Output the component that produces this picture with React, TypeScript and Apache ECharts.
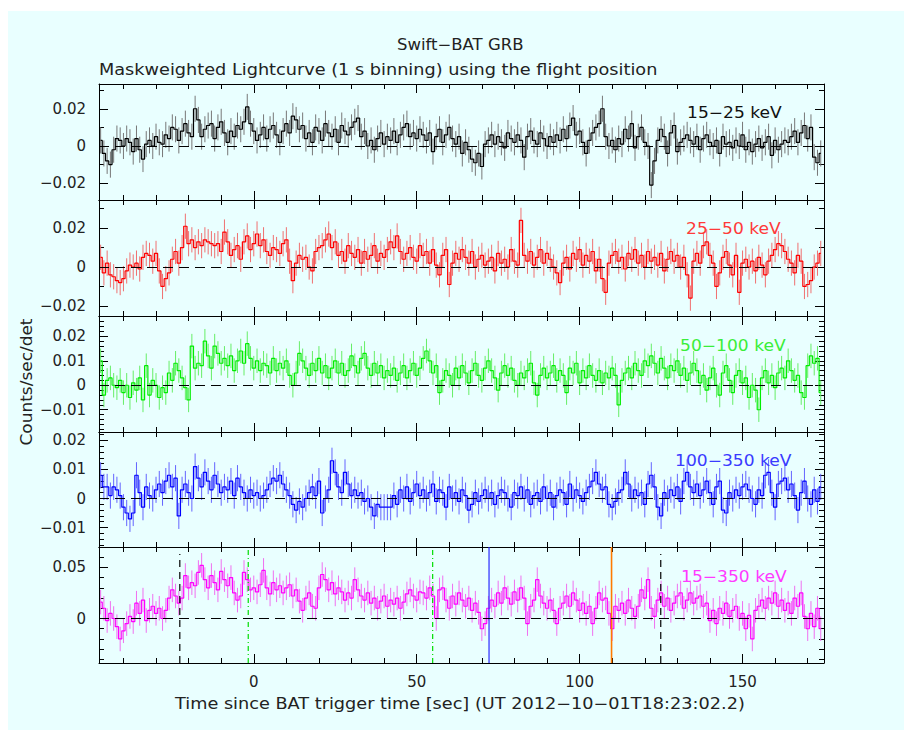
import React, { useEffect, useRef } from 'react';
import * as echarts from 'echarts';

// ---------------- data (rates in units of 0.001 counts/sec/det, 1 s bins) ----------------
const FIRST_BIN_CENTRE = -47; // seconds since trigger
const X_MIN = -47.5;
const X_MAX = 175;
const X_TICK_LABELS = [0, 50, 100, 150];
const X_MINOR_TICKS = [-40, -30, -20, -10, 10, 20, 30, 40, 60, 70, 80, 90, 110, 120, 130, 140, 160, 170];

const BAND_LABELS = ['15−25 keV', '25−50 keV', '50−100 keV', '100−350 keV', '15−350 keV'];

const RATE_15_25 = [
  3, -4, -8, -10, -2, 4, 3, 0, 4, 2,
  -3, 4, -2, -7, 1, 3, 0, 5, 2, 1,
  6, 4, 10, 9, 3, 8, 12, 7, 5, 20,
  14, 5, 9, 11, 12, 4, 10, 13, 7, 2,
  8, 5, 11, 9, 13, 21, 12, 8, 3, 6,
  10, 4, 9, 11, 6, 2, 8, 12, 7, 16,
  14, 9, 11, 4, 7, 2, 10, 8, 3, 12,
  7, 5, 9, 2, 11, 8, 6, 10, 13, 15,
  5, 8, 0, 3, -2, 4, 7, 1, 5, 3,
  8, 2, 6, 10, 12, 5, 7, 4, 9, 6,
  3, 7, -3, 5, 9, 2, 6, 10, 4, 1,
  5, -4, 2, -2, -7, -9, -4, -11, 1, 3,
  6, 1, 5, 2, -1, 7, 4, 2, 6, 3,
  -6, 5, 8, 3, 1, 7, 4, 0, 5, 2,
  6, 3, 9, 4, 11, 15, 6, 8, 2, -4,
  3, 7, 10, 12, 20, 5, 0, 3, -2, 4,
  1, 9, 4, 12, -1, 5, 10, 2, 0, -21,
  -8, 3, 9, 5, -4, 7, 11, -3, 2, 4,
  6, 3, 1, 5, -2, 4, 6, 2, 0, 3,
  -4, 5, 1, 2, -1, 3, 0, 6, -2, 2,
  -3, 1, 4, -1, 2, 5, -5, 3, -2, 1,
  3, 2, 5, 8, 2, 7, 11, 4, 10, -6,
  -9, -4,
];

const RATE_25_50 = [
  5, -3, 2, -4, -5, -7, -8, -6, -2, 1,
  0, 2, -1, 5, 7, 6, 3, 7, -2, -10,
  -6, -3, 4, 8, 2, 10, 21, 12, 14, 10,
  13, 11, 14, 13, 12, 11, 12, 8, 18, 13,
  6, 9, 11, 4, 13, 16, 9, 12, 17, 11,
  14, 8, 6, 10, 9, 7, 12, 14, 3, -7,
  2, 6, 4, 5, 0, -2, 8, 10, 11, 14,
  17, 10, 13, 6, 8, 3, 11, 7, 5, 9,
  2, 8, 4, 6, 11, 3, 7, 5, 9, 13,
  10, 16, 8, 4, 7, 10, 5, 3, 11, 6,
  8, 2, 9, 1, -4, 6, 9, -9, 2, 7,
  4, 9, 5, 2, 8, 0, 4, 6, 1, 3,
  5, -2, 7, 2, 4, 0, 9, 3, 1, 24,
  6, 3, 8, 1, 5, 9, 2, 7, 4, 0,
  -3, -8, 2, 5, -1, 7, 4, 9, 1, 6,
  3, 8, -2, 4, -6, -13, 2, 6, 8, 3,
  5, -1, 7, 4, 9, 2, 6, 0, 8, 3,
  5, 1, 7, -2, 4, 8, 3, 6, 0, 5,
  -4, -16, 3, 7, 2, 11, 13, 6, 2, -10,
  -3, 5, 8, 1, -4, 6, -13, 2, 4, 0,
  3, -2, 5, 1, -4, 3, 6, 9, 12, 11,
  8, 4, 2, -3, 6, 3, -10, -9, -7, 0,
  2, 7,
];

const RATE_50_100 = [
  10, -4, 2, 3, 0, -1, 2, -3, 0, -5,
  1, -2, 3, -6, 8, -4, 2, 0, -5, -1,
  -3, 5, 2, 9, 6, 3, -1, -6, 16, 7,
  9, 8, 18, 12, 7, 16, 13, 9, 11, 8,
  12, 6, 10, 14, 9, 17, 11, 7, 10, 6,
  9, 8, 5, 11, 6, 9, 7, 10, 4, 0,
  5, 13, 10, 7, 4, 9, 6, 11, 5, 8,
  3, 7, 10, 5, 9, 4, 6, 12, 8, 5,
  11, 13, 7, 4, 9, 5, 8, 3, 6, 4,
  7, 2, 5, 8, 3, 6, 9, 4, 7, 11,
  14, 10, 5, 8, -3, 2, 6, 4, 0, 7,
  3, 8, 5, 1, 6, 9, 4, 2, 7, 10,
  6, 3, -2, 5, 8, 4, 7, 2, 0, 5,
  3, 6, 9, 1, -4, 4, 7, 3, 5, 8,
  2, 6, 4, -3, 7, 5, 9, 1, 6, 3,
  8, 4, 2, 6, 1, 5, 3, 7, 4, -8,
  2, 5, 7, 3, 9, 6, 4, 10, 8, 12,
  9, 5, 11, 7, 3, 8, 6, 10, 4, 7,
  2, 5, 9, 6, 1, 4, -2, 3, 7, 0,
  -4, 5, 8, 2, -3, 4, 6, 1, 3, -5,
  0, -2, -10, 3, 6, 1, 4, -1, 5, 7,
  3, 10, 6, 2, 4, -3, -5, 8, 12, 9,
  11, -3,
];

const RATE_100_350 = [
  8, 4, 4, 1, 4, 3, 1, -3, -5, -7,
  -5, 8, 2, -3, 4, 1, 0, 3, 5, 2,
  6, 8, 4, 7, -6, 3, 5, 2, 0, 11,
  7, 4, 9, 6, 3, 8, 5, 2, 4, 3,
  6, 1, 7, 4, 2, 0, 3, 1, 2, 0,
  1, 3, 5, 7, 6, 8, 5, 3, 1, -2,
  -4, -1, -3, 0, 2, 4, 1, 6, -5, 0,
  3, 13, 9, 4, 2, 9, 5, 1, 3, 1,
  2, -1, 0, -3, -6, -2, -3, -3, -3, -3,
  1, -2, 3, 0, 4, -1, 2, 5, 1, 3,
  0, 2, 5, -1, 3, 2, -3, 4, 0, 2,
  -1, 3, 1, -4, -2, 2, -1, 1, 3, 0,
  2, -2, 1, 3, 2, 0, -3, 2, 1, 4,
  0, 3, -2, 1, 2, -1, 4, 0, 2, -3,
  1, 3, 2, -2, 5, 0, 3, 1, -1, 2,
  4, 6, 9, 5, 3, 4, -2, -3, -1, 2,
  3, 9, 5, 0, 3, 1, 2, -2, 5, 8,
  4, -3, -6, 2, 0, 3, 1, 4, -1, 6,
  9, 4, 2, 5, 1, 3, 6, 2, -2, 4,
  6, -4, -5, 2, 0, 3, 1, 4, 5, 3,
  0, -2, 3, 1, 8, 9, 2, -3, 5, 6,
  7, 3, 5, 1, -4, 2, 6, 0, -2, 3,
  -1, 4,
];

const RATE_15_350 = [
  16, 10, -2, 5, 0, -8, -20, -12, -5, 2,
  -3, 15, 5, 18, -2, 8, 12, 5, 10, 0,
  8, 20, 28, 22, 15, 20, 42, 30, 35, 32,
  45, 52, 38, 30, 42, 35, 28, 46, 38, 32,
  40, 25, 18, 22, 45, 38, 28, 30, 26, 33,
  47, 30, 24, 35, 28, 32, 25, 30, 33, 22,
  28, 17, 8, 20, 25, 12, 10, 30, 43, 38,
  28, 35, 24, 30, 26, 18, 25, 20, 38, 28,
  22, 18, 25, 15, 20, 10, 17, 22, 12, 18,
  14, 20, 10, 16, 24, 28, 22, 18, 26, 25,
  20, 30, 22, 0, 28, 30, 18, 10, 22, 14,
  25, 18, 12, 20, 8, 15, 6, -10, -5, 10,
  18, 12, 25, 15, 30, 20, 14, 26, 18, 30,
  20, -5, 12, 18, 38, 22, 15, 10, 18, 8,
  -5, 10, 15, 22, 12, 25, 18, 8, 15, 5,
  12, -5, 10, 25, 18, 20, 5, -10, 12, 8,
  15, 5, 18, 10, 2, 12, 28, 20, 38, 10,
  2, 18, 25, 12, 20, 8, 15, 22, 25, 10,
  18, 25, 15, 20, 22, 12, 15, -2, 8, -5,
  10, 5, 15, 2, 8, 12, 0, 5, -10, 3,
  -20, 8, 12, 18, 10, 20, 15, 25, 12, 18,
  8, 15, 5, 20, 12, 25, 2, -10, 5, -8,
  10, -10,
];

const BAND_RATES = [RATE_15_25, RATE_25_50, RATE_50_100, RATE_100_350, RATE_15_350];
const BAND_ERRORS = [0.007, 0.0065, 0.005, 0.0045, 0.012]; // typical 1-sigma per bin

const Y_MIN = [-0.029, -0.0252, -0.0191, -0.0167, -0.0435];
const Y_MAX = [0.0333, 0.0345, 0.0283, 0.0229, 0.0699];
const Y_TICK_LABELS = [
  [-0.02, 0, 0.02],
  [-0.02, 0, 0.02],
  [-0.01, 0, 0.01, 0.02],
  [-0.01, 0, 0.01, 0.02],
  [0, 0.05],
];
const Y_MINOR_STEP = [0.01, 0.01, 0.002, 0.002, 0.01];

// event markers in the 15-350 keV panel (seconds)
const MARKER_TIMES = [-22.7, -1.7, 54.9, 72.2, 109.8, 124.9];
const MARKER_COLORS = ['#000000', '#00dd00', '#00dd00', '#2a2aff', '#ff7a00', '#000000'];
const MARKER_DASH: any[] = [[7, 5], [5, 3, 1, 3], [5, 3, 1, 3], 'solid', 'solid', [7, 5]];
const MARKER_WIDTH = [1.2, 1.2, 1.2, 1.2, 1.6, 1.2];
const MARKER_TOP = [0.063, 0.067, 0.067, 0.0699, 0.0699, 0.063];

// ---------------- styling ----------------
const FONT = 'DejaVu Sans';
const LINE_COLORS = ['#000000', '#ff0000', '#00ee00', '#0000ff', '#ff00ff'];
const ERR_COLORS = ['#777777', '#f07070', '#66ee66', '#6464ff', '#f070f0'];
const LABEL_COLORS = ['#111111', '#ff3a3a', '#3aee3a', '#3a3aff', '#ff3aff'];
const LABEL_POS = [[687, 113], [686, 229], [680, 346], [675, 461], [681, 577]];
const GRID_TOP = [84, 200, 316, 432, 547];
const GRID_H = [116, 116, 116, 115, 116];

function minorTicks(min: number, max: number, step: number, majors: number[]) {
  const out: number[] = [];
  for (let k = Math.ceil(min / step); k <= Math.floor(max / step); k++) {
    const v = Math.round(k * step * 1e6) / 1e6;
    if (!majors.some((m) => Math.abs(m - v) < 1e-9)) out.push(v);
  }
  return out;
}

function fmt(v: number) {
  if (Math.abs(v) < 1e-12) return '0';
  return String(+v.toFixed(3)).replace('-', '−');
}

function buildOption() {
  const grids: any[] = [];
  const xAxes: any[] = [];
  const yAxes: any[] = [];
  const series: any[] = [];
  const axisLine = { show: true, onZero: false, lineStyle: { color: '#000', width: 1 } };
  const labelStyle = { color: '#222', fontSize: 15, fontFamily: FONT };

  GRID_TOP.forEach((top, i) => {
    grids.push({ left: 99, top, width: 725, height: GRID_H[i], containLabel: false, outerBoundsMode: 'none', show: false });
    const xb = { type: 'value', gridIndex: i, min: X_MIN, max: X_MAX, splitLine: { show: false } };
    const majorX = { show: true, inside: true, length: 9, customValues: X_TICK_LABELS, lineStyle: { color: '#000' } };
    const minorX = { show: true, inside: true, length: 5, customValues: X_MINOR_TICKS, lineStyle: { color: '#000' } };
    xAxes.push({ ...xb, position: 'bottom', axisLine, axisTick: majorX,
      axisLabel: { show: i === 4, customValues: X_TICK_LABELS, margin: 11, ...labelStyle } });
    xAxes.push({ ...xb, position: 'top', axisLine, axisTick: majorX, axisLabel: { show: false } });
    xAxes.push({ ...xb, position: 'bottom', axisLine: { show: false, onZero: false }, axisTick: minorX, axisLabel: { show: false } });
    xAxes.push({ ...xb, position: 'top', axisLine: { show: false, onZero: false }, axisTick: minorX, axisLabel: { show: false } });

    const majY = Y_TICK_LABELS[i];
    const minY = minorTicks(Y_MIN[i], Y_MAX[i], Y_MINOR_STEP[i], majY);
    const yb = { type: 'value', gridIndex: i, min: Y_MIN[i], max: Y_MAX[i], splitLine: { show: false } };
    const majorY = { show: true, inside: true, length: 9, customValues: majY, lineStyle: { color: '#000' } };
    const minorY = { show: true, inside: true, length: 5, customValues: minY, lineStyle: { color: '#000' } };
    yAxes.push({ ...yb, position: 'left', axisLine, axisTick: majorY,
      axisLabel: { show: true, customValues: majY, margin: 13, formatter: fmt, ...labelStyle } });
    yAxes.push({ ...yb, position: 'right', axisLine, axisTick: majorY, axisLabel: { show: false } });
    yAxes.push({ ...yb, position: 'left', axisLine: { show: false, onZero: false }, axisTick: minorY, axisLabel: { show: false } });
    yAxes.push({ ...yb, position: 'right', axisLine: { show: false, onZero: false }, axisTick: minorY, axisLabel: { show: false } });

    const rates = BAND_RATES[i];
    const pts = rates.map((r, k) => [FIRST_BIN_CENTRE + k, r / 1000]);
    const err = BAND_ERRORS[i];
    const errColor = ERR_COLORS[i];

    series.push({
      type: 'custom',
      xAxisIndex: 4 * i,
      yAxisIndex: 4 * i,
      clip: true,
      z: 2,
      data: pts.map((p) => [p[0], p[1], err]),
      encode: { x: 0, y: 1 },
      renderItem: (params: any, api: any) => {
        const x = api.value(0);
        const y = api.value(1);
        const e = api.value(2);
        const a = api.coord([x, y - e]);
        const b = api.coord([x, y + e]);
        return {
          type: 'line',
          shape: { x1: a[0], y1: a[1], x2: b[0], y2: b[1] },
          style: { stroke: errColor, lineWidth: 1 },
        };
      },
    });

    series.push({
      type: 'line',
      xAxisIndex: 4 * i,
      yAxisIndex: 4 * i,
      data: pts,
      step: 'middle',
      showSymbol: false,
      symbol: 'none',
      z: 3,
      lineStyle: { color: LINE_COLORS[i], width: 1.2 },
      markLine: {
        silent: true,
        symbol: ['none', 'none'],
        label: { show: false },
        lineStyle: { color: '#000', type: [10, 6], width: 1 },
        data: [[{ coord: [X_MIN, 0] }, { coord: [X_MAX, 0] }]],
      },
    });

    if (i === 4) {
      MARKER_TIMES.forEach((t, m) => {
        series.push({
          type: 'line',
          xAxisIndex: 4 * i,
          yAxisIndex: 4 * i,
          data: [[t, Y_MIN[i]], [t, MARKER_TOP[m]]],
          showSymbol: false,
          symbol: 'none',
          z: 4,
          silent: true,
          lineStyle: { color: MARKER_COLORS[m], type: MARKER_DASH[m], width: MARKER_WIDTH[m] },
        });
      });
    }
  });

  const txt = (text: string, x: number, y: number, fill: string, scaleX: number, extra: any = {}) => ({
    type: 'text',
    x,
    y,
    scaleX,
    z: 10,
    ...extra,
    style: {
      text,
      fill,
      font: `15px "${FONT}"`,
      align: extra.align || 'left',
      textAlign: extra.align || 'left',
      verticalAlign: 'middle',
      textVerticalAlign: 'middle',
    },
  });

  const graphic: any[] = [
    { type: 'rect', shape: { x: 8, y: 11, width: 896, height: 719 }, style: { fill: '#e9ffff' }, z: -100, silent: true },
    txt('Swift−BAT GRB', 397, 45, '#222', 1.1),
    txt('Maskweighted Lightcurve (1 s binning) using the flight position', 99, 70, '#222', 1.18),
    txt('Time since BAT trigger time [sec] (UT 2012−10−01T18:23:02.2)', 175, 704, '#222', 1.18),
    { ...txt('Counts/sec/det', 27, 382, '#222', 1.13, { align: 'center' }), rotation: Math.PI / 2 },
  ];
  BAND_LABELS.forEach((lab, i) => {
    graphic.push(txt(lab, LABEL_POS[i][0], LABEL_POS[i][1], LABEL_COLORS[i], 1.14));
  });

  return {
    animation: false,
    backgroundColor: '#ffffff',
    grid: grids,
    xAxis: xAxes,
    yAxis: yAxes,
    series,
    graphic,
  };
}

export default function App() {
  const ref = useRef<HTMLDivElement>(null);
  useEffect(() => {
    const chart = echarts.init(ref.current!, null, { renderer: 'svg' });
    chart.setOption(buildOption() as any);
    return () => chart.dispose();
  }, []);
  return <div ref={ref} style={{ position: 'fixed', left: 0, top: 0, width: 904, height: 730 }} />;
}
